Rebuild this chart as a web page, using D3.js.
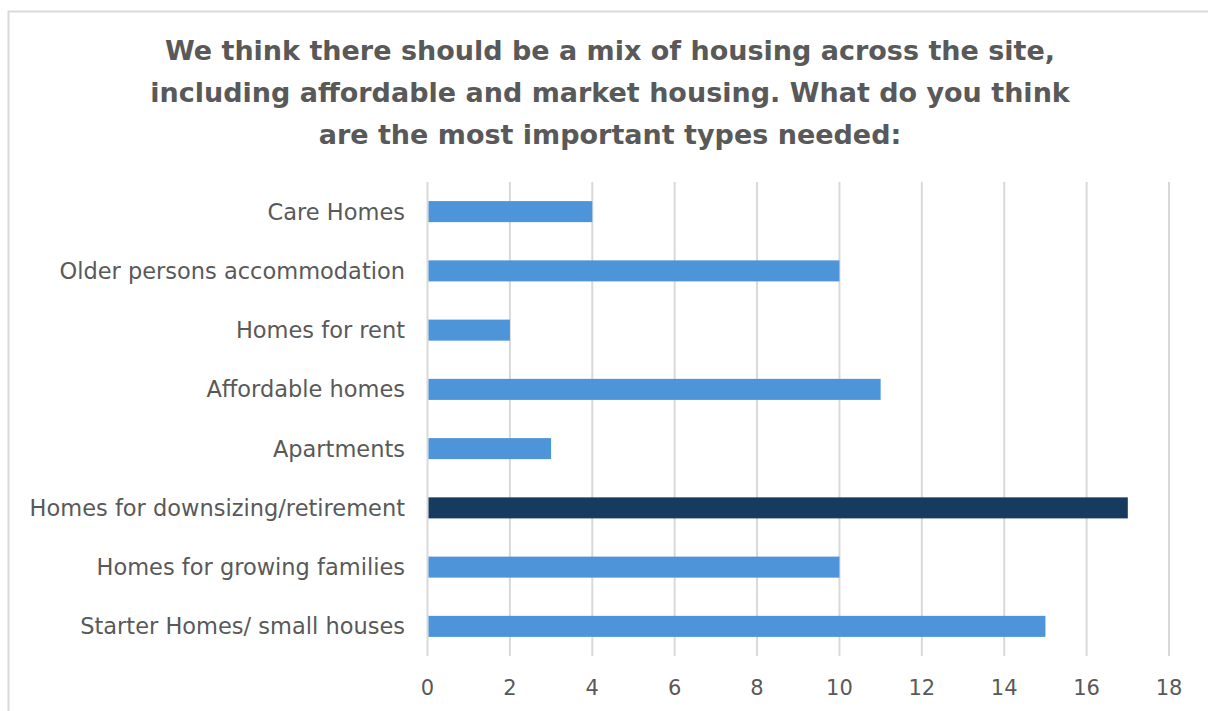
<!DOCTYPE html>
<html lang="en">
  <head>
    <meta charset="UTF-8" />
    <title>Housing types</title>
    <script src="https://d3js.org/d3.v7.min.js"></script>
    <style>
      body {
        margin: 0;
        padding: 0;
        background: #fff;
      }
      text {
        font-family: 'DejaVu Sans', sans-serif;
        fill: #595959;
      }
    </style>
  </head>

  <body>
    <svg width="1208" height="711"></svg>

    <script>
      var categories = [
        'Care Homes',
        'Older persons accommodation',
        'Homes for rent',
        'Affordable homes',
        'Apartments',
        'Homes for downsizing/retirement',
        'Homes for growing families',
        'Starter Homes/ small houses',
      ]
      var values = [4, 10, 2, 11, 3, 17, 10, 15]
      var highlight = 'Homes for downsizing/retirement'
      var xTicks = [0, 2, 4, 6, 8, 10, 12, 14, 16, 18]
      var titleLines = [
        'We think there should be a mix of housing across the site,',
        'including affordable and market housing. What do you think',
        'are the most important types needed:',
      ]

      var svg = d3.select('svg')

      // chart frame
      svg
        .append('rect')
        .attr('x', 8.5)
        .attr('y', 11.5)
        .attr('width', 1220)
        .attr('height', 720)
        .attr('fill', 'none')
        .attr('stroke', '#d9d9d9')
        .attr('stroke-width', 2)

      svg
        .append('g')
        .selectAll('text')
        .data(titleLines)
        .enter()
        .append('text')
        .attr('x', 610)
        .attr('y', (d, i) => 60 + i * 42)
        .attr('text-anchor', 'middle')
        .attr('font-size', 27)
        .attr('font-weight', 'bold')
        .text((d) => d)

      var plotLeft = 427.5
      var plotTop = 182
      var plotBottom = 656

      var xScale = d3.scaleLinear().domain([0, 18]).range([plotLeft, 1169])
      var yScale = d3
        .scaleBand()
        .domain(categories)
        .range([plotTop, plotBottom])
        .paddingInner(0.645)
        .paddingOuter(0.3225)

      // gridlines
      svg
        .append('g')
        .selectAll('line')
        .data(xTicks)
        .enter()
        .append('line')
        .attr('x1', (d) => xScale(d))
        .attr('x2', (d) => xScale(d))
        .attr('y1', plotTop)
        .attr('y2', plotBottom)
        .attr('stroke', '#d9d9d9')
        .attr('stroke-width', 2)

      svg
        .append('g')
        .selectAll('rect')
        .data(values)
        .enter()
        .append('rect')
        .attr('x', xScale(0) + 1)
        .attr('y', (d, i) => yScale(categories[i]))
        .attr('width', (d) => xScale(d) - xScale(0) - 1)
        .attr('height', yScale.bandwidth())
        .attr('fill', (d, i) =>
          categories[i] === highlight ? '#173b5f' : '#4e94d8',
        )

      // category labels
      svg
        .append('g')
        .selectAll('text')
        .data(categories)
        .enter()
        .append('text')
        .attr('x', 405)
        .attr('y', (d) => yScale(d) + yScale.bandwidth() / 2)
        .attr('dy', '0.35em')
        .attr('text-anchor', 'end')
        .attr('font-size', 22.5)
        .text((d) => d)

      // x tick labels
      svg
        .append('g')
        .selectAll('text')
        .data(xTicks)
        .enter()
        .append('text')
        .attr('x', (d) => xScale(d))
        .attr('y', 688)
        .attr('dy', '0.35em')
        .attr('text-anchor', 'middle')
        .attr('font-size', 21)
        .text((d) => d)
    </script>
  </body>
</html>
